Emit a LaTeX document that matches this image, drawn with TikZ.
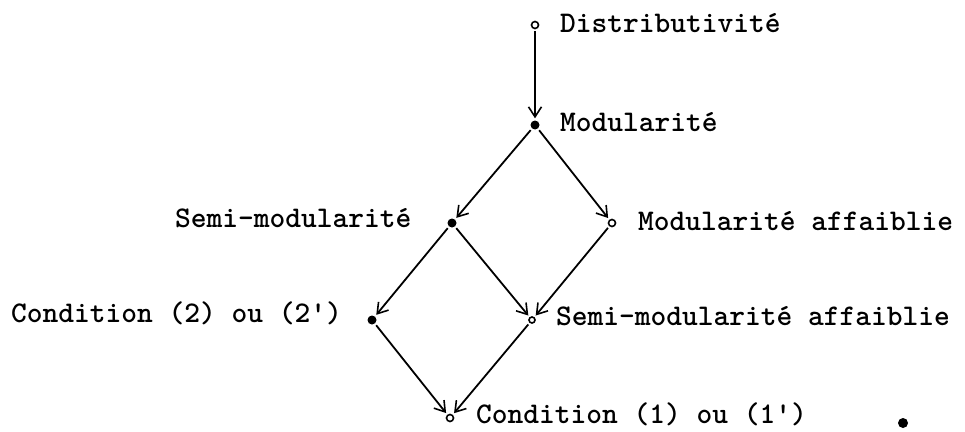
\documentclass[tikz,border=0pt]{standalone}
\usetikzlibrary{arrows.meta}
\begin{document}
\begin{tikzpicture}[x=1pt,y=-1pt,
  lbl/.style={anchor=base west,inner sep=0pt,font=\ttfamily\bfseries\fontsize{30}{36}\selectfont},
  fdot/.style={circle,fill=black,inner sep=0pt,minimum size=9pt},
  odot/.style={circle,draw=black,line width=1.6pt,fill=white,inner sep=0pt,minimum size=7pt},
  arr/.style={line width=1.8pt,-{Straight Barb[length=10pt,width=13pt,line width=1.6pt]},shorten >=2pt,shorten <=2pt}]
\useasboundingbox (0,0) rectangle (965,431);
% points
\node[odot] (D) at (535,25) {};
\node[fdot] (M) at (535,125) {};
\node[fdot] (SM) at (452,223) {};
\node[odot] (MA) at (612,223) {};
\node[fdot] (C2) at (372,320) {};
\node[odot,minimum size=6pt] (SMA) at (532,320) {};
\node[odot] (C1) at (450,418) {};
\node[fdot,minimum size=10pt] (X) at (903,423) {};
% labels
\node[lbl] (tD) at (560,32) {Distributivité};
\node[lbl] (tM) at (560,131) {Modularité};
\node[lbl] (tSM) at (175,227) {Semi-modularité};
\node[lbl] (tMA) at (638,230) {Modularité affaiblie};
\node[lbl] (tC2) at (11,322) {Condition (2) ou (2\textquotesingle)};
\node[lbl] (tSMA) at (556,325) {Semi-modularité affaiblie};
\node[lbl] (tC1) at (476,423) {Condition (1) ou (1\textquotesingle)};
% arrows
\draw[arr] (D) -- (M);
\draw[arr] (M) -- (SM);
\draw[arr] (M) -- (MA);
\draw[arr] (SM) -- (C2);
\draw[arr] (SM) -- (SMA);
\draw[arr] (MA) -- (SMA);
\draw[arr] (C2) -- (C1);
\draw[arr] (SMA) -- (C1);
\end{tikzpicture}
\end{document}
